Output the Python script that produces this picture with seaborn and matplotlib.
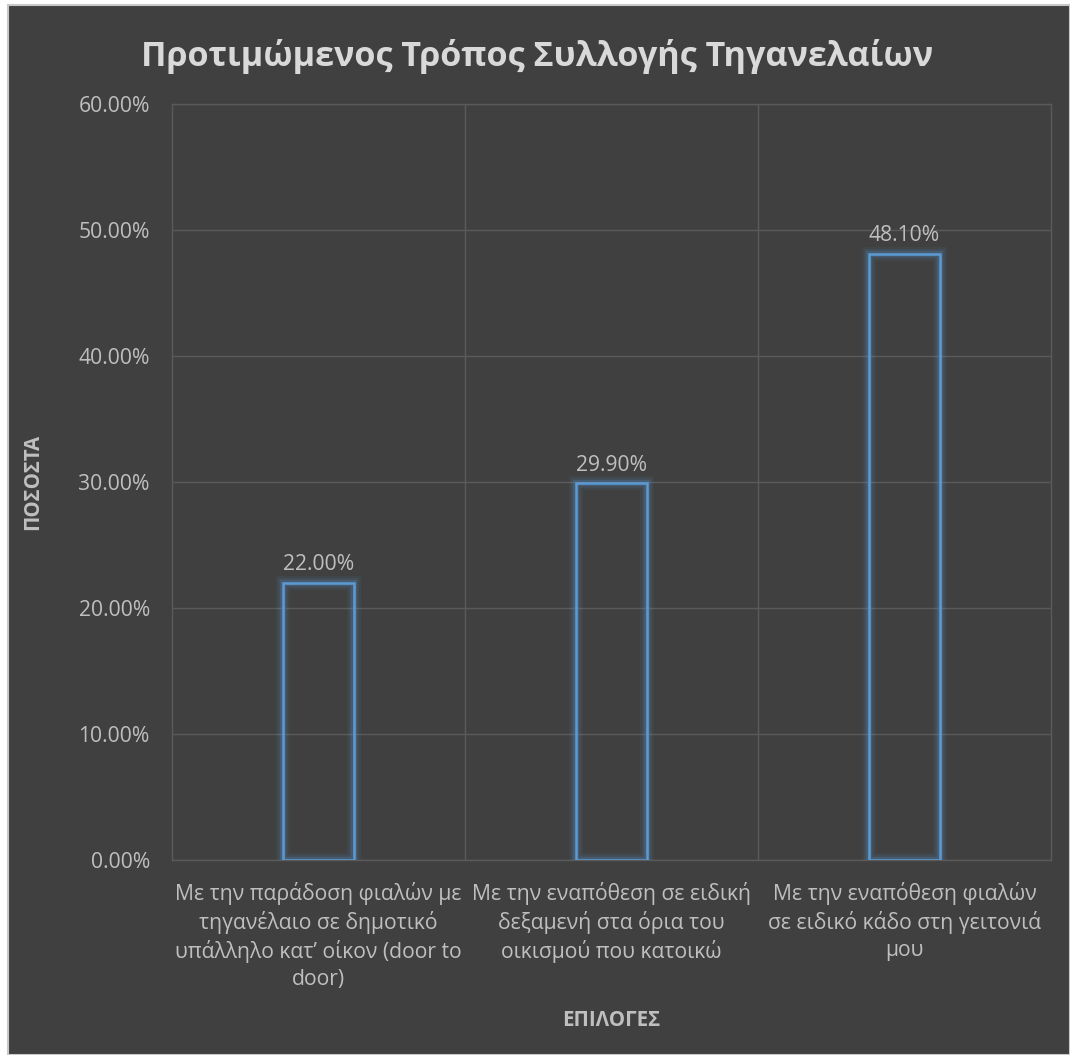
import matplotlib
matplotlib.use("Agg")
import matplotlib.pyplot as plt
import matplotlib.patheffects as pe
from matplotlib.patches import Rectangle
from matplotlib.ticker import FuncFormatter, MultipleLocator
import seaborn as sns
import pandas as pd

# Survey data
categories = [
    "Με την παράδοση φιαλών με\nτηγανέλαιο σε δημοτικό\nυπάλληλο κατ’ οίκον (door to\ndoor)",
    "Με την εναπόθεση σε ειδική\nδεξαμενή στα όρια του\nοικισμού που κατοικώ",
    "Με την εναπόθεση φιαλών\nσε ειδικό κάδο στη γειτονιά\nμου",
]
values = [22.0, 29.9, 48.1]
title = "Προτιμώμενος Τρόπος Συλλογής Τηγανελαίων"
xlabel = "ΕΠΙΛΟΓΕΣ"
ylabel = "ΠΟΣΟΣΤΑ"

df = pd.DataFrame({"cat": categories, "val": values})

sns.set_theme(style="dark")
plt.rcParams["font.family"] = ["Open Sans", "DejaVu Sans"]

BG = "#404040"
GRID = "#5a5a5a"
TXT = "#bfbfbf"
BLUE = "#5b9bd5"
FS = 15.2

fig = plt.figure(figsize=(10.70, 10.55), dpi=100, facecolor="white")
fig.patches.append(Rectangle((8 / 1070, 0), 1 - 8 / 1070, 1 - 5 / 1055,
                             transform=fig.transFigure, facecolor=BG,
                             edgecolor="#c8c8c8", linewidth=1.5, zorder=-10))

ax = fig.add_axes([172 / 1070, 195 / 1055, 879 / 1070, 756 / 1055])
ax.set_facecolor(BG)

sns.barplot(data=df, x="cat", y="val", ax=ax, width=0.24, fill=False,
            color=BLUE, linewidth=1.8, zorder=3)
for p in ax.patches:
    p.set_edgecolor(BLUE)
    p.set_facecolor("none")
    p.set_path_effects([
        pe.Stroke(linewidth=10, foreground=BLUE, alpha=0.07),
        pe.Stroke(linewidth=7, foreground=BLUE, alpha=0.11),
        pe.Stroke(linewidth=4.5, foreground=BLUE, alpha=0.18),
        pe.Normal(),
    ])

for i, v in enumerate(values):
    ax.text(i, v + 0.6, f"{v:.2f}%", ha="center", va="bottom",
            color=TXT, fontsize=FS)

ax.set_ylim(0, 60)
ax.set_xlim(-0.5, 2.5)
ax.yaxis.set_major_locator(MultipleLocator(10))
ax.yaxis.set_major_formatter(FuncFormatter(lambda y, _: f"{y:.2f}%"))
ax.set_xticks([0.5, 1.5], minor=True)
ax.grid(True, axis="y", which="major", color=GRID, linewidth=1, zorder=0)
ax.grid(True, axis="x", which="minor", color=GRID, linewidth=1, zorder=0)
ax.grid(False, axis="x", which="major")
ax.set_axisbelow(True)
for s in ax.spines.values():
    s.set_visible(True)
    s.set_color(GRID)
    s.set_linewidth(1)

ax.tick_params(axis="both", which="both", length=0, colors=TXT, labelsize=FS)
ax.tick_params(axis="y", pad=16)
ax.tick_params(axis="x", pad=15.5)
for t in ax.get_xticklabels():
    t.set_linespacing(1.36)
    t.set_va("top")

ax.set_xlabel(xlabel, color=TXT, fontsize=14.8, fontweight="bold")
ax.xaxis.set_label_coords(0.5, -0.198)
ax.set_ylabel(ylabel, color=TXT, fontsize=14.8, fontweight="bold")
ax.yaxis.set_label_coords(-0.147, 0.5)

fig.text(537 / 1070, 1 - 57 / 1055, title, ha="center", va="center",
         color="#d9d9d9", fontsize=24.6, fontweight="bold")

fig.savefig("out.png", dpi=100, facecolor=fig.get_facecolor())
